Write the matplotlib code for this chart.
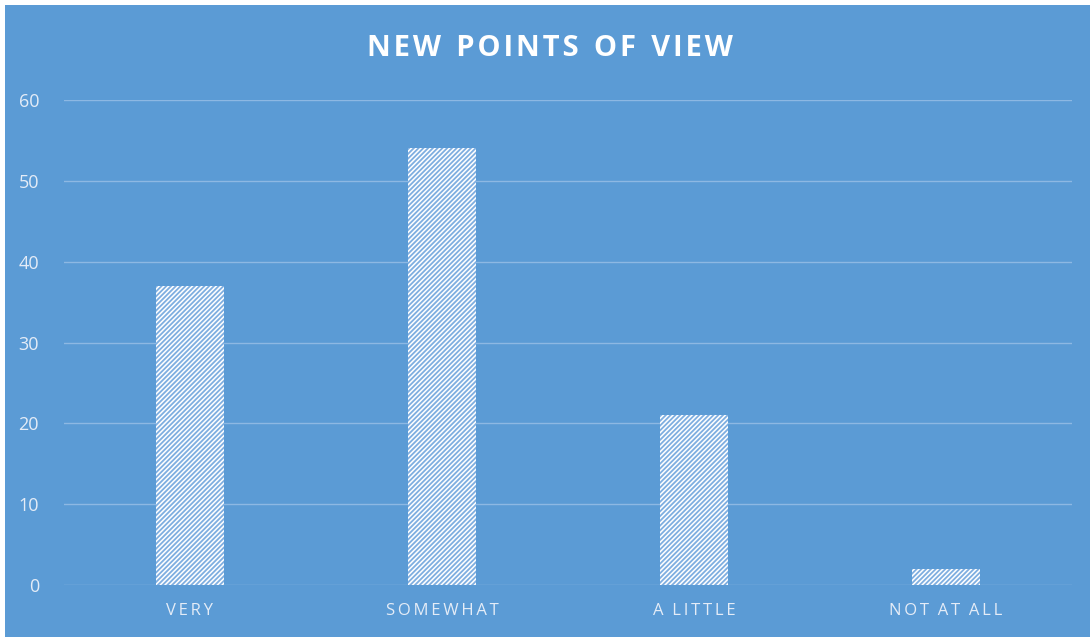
import matplotlib
matplotlib.use("Agg")
import matplotlib.pyplot as plt
from matplotlib.patches import Rectangle

categories = ["VERY", "SOMEWHAT", "A LITTLE", "NOT AT ALL"]
values = [37, 54, 21, 2]
yticks = [0, 10, 20, 30, 40, 50, 60]
title = "NEW POINTS OF VIEW"

BG = "#5B9BD5"
TEXT = "#E4ECF7"
GRID = "#8DB8E3"


def spaced(s, gap="\u2009"):
    # open up letter spacing the way the labels are set
    return gap.join(s).replace(gap + " " + gap, "  ")


plt.rcParams["font.family"] = ["Open Sans", "DejaVu Sans"]
plt.rcParams["hatch.linewidth"] = 1.3

fig = plt.figure(figsize=(10.9, 6.37), dpi=100, facecolor="white")
fig.patches.append(Rectangle((5 / 1090, 0), 1, 632 / 637, transform=fig.transFigure,
                             facecolor=BG, edgecolor="none", zorder=-1))

ax = fig.add_axes([64 / 1090, 52 / 637, 1008 / 1090, 485 / 637])
ax.set_facecolor("none")

x = range(len(categories))
ax.bar(x, values, width=0.27, color="white", edgecolor="#7FAEE0", hatch="///////",
       linewidth=0, zorder=3)

ax.set_xlim(-0.5, len(categories) - 0.5)
ax.set_ylim(0, 60)
ax.set_yticks(yticks)
ax.set_xticks(list(x))
ax.set_xticklabels([spaced(c) for c in categories])
ax.tick_params(axis="y", length=0, pad=18, labelsize=13, labelcolor=TEXT)
ax.tick_params(axis="x", length=0, pad=13, labelsize=12, labelcolor=TEXT)
ax.grid(axis="y", color=GRID, linewidth=1, zorder=1)
for s in ax.spines.values():
    s.set_visible(False)

fig.text(550 / 1090, 1 - 48 / 637, spaced(title, "\u200a"), ha="center", va="center",
         fontsize=21, fontweight="bold", color="white")

fig.savefig("out.png", dpi=100, facecolor=fig.get_facecolor())
